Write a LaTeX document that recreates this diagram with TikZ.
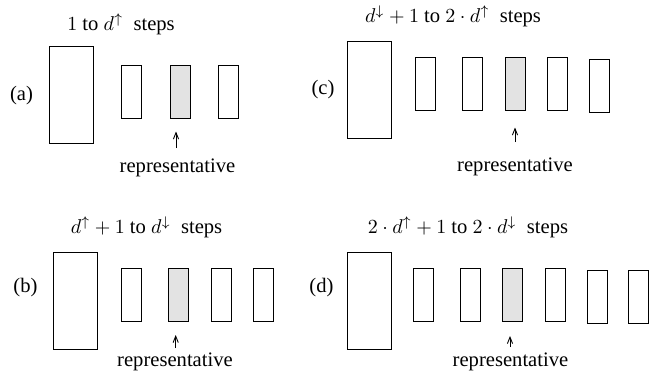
\documentclass[tikz,border=0pt]{standalone}
\usepackage{fontspec}
\setmainfont{Liberation Serif}
\usetikzlibrary{arrows.meta}
\begin{document}
\begin{tikzpicture}[x=0.5pt,y=-0.5pt,
  bigbox/.style={draw,line width=0.5pt,inner sep=0pt,minimum width=22pt,minimum height=48.5pt},
  smallbox/.style={draw,line width=0.5pt,inner sep=0pt,minimum width=10pt,minimum height=26.5pt},
  repbox/.style={smallbox,fill=gray!22},
  lbl/.style={inner sep=0pt,font=\fontsize{10.3}{12}\selectfont},
  reparrow/.style={line width=0.45pt,-{Straight Barb[length=3.2pt,width=2.6pt]}}]
\useasboundingbox (0,0) rectangle (665,380);
% (a)
\node[lbl] (ta) at (121,24) {$1$ to $d^{\uparrow}$\ \ steps};
\node[lbl] (la) at (21.5,96) {(a)};
\node[bigbox] (a0) at (71,94.5) {};
\node[smallbox] (a1) at (131.5,92) {};
\node[repbox] (a2) at (180.2,92) {};
\node[smallbox] (a3) at (228.3,92) {};
\node[lbl] (ra) at (177.5,168) {representative};
\coordinate (as) at (176,148);
\coordinate (ae) at (176,131.5);
\draw[reparrow] (as) -- (ae);
% (b)
\node[lbl] (tb) at (146.5,227) {$d^{\uparrow}+1$ to $d^{\downarrow}$\ \ steps};
\node[lbl] (lb) at (25.5,288) {(b)};
\node[bigbox] (b0) at (75.8,300.5) {};
\node[smallbox] (b1) at (131.5,294.8) {};
\node[repbox] (b2) at (178.5,294.8) {};
\node[smallbox] (b3) at (221.8,294.8) {};
\node[smallbox] (b4) at (263.8,294.8) {};
\node[lbl] (rb) at (175,362) {representative};
\coordinate (bs) at (175.7,348);
\coordinate (be) at (175.7,335);
\draw[reparrow] (bs) -- (be);
% (c)
\node[lbl] (tc) at (453,16) {$d^{\downarrow}+1$ to $2\cdot d^{\uparrow}$\ \ steps};
\node[lbl] (lc) at (323,90) {(c)};
\node[bigbox] (c0) at (369.3,89.5) {};
\node[smallbox] (c1) at (425.2,83.8) {};
\node[smallbox] (c2) at (472,83.8) {};
\node[repbox] (c3) at (515.5,83.8) {};
\node[smallbox] (c4) at (557.2,83.8) {};
\node[smallbox] (c5) at (599.3,85.5) {};
\node[lbl] (rc) at (515,167) {representative};
\coordinate (cs) at (515,142);
\coordinate (ce) at (515,127.5);
\draw[reparrow] (cs) -- (ce);
% (d)
\node[lbl] (td) at (468,227) {$2\cdot d^{\uparrow}+1$ to $2\cdot d^{\downarrow}$\ \ steps};
\node[lbl] (ld) at (321.5,288) {(d)};
\node[bigbox] (d0) at (369.2,300.5) {};
\node[smallbox] (d1) at (423.3,294.8) {};
\node[smallbox] (d2) at (470,294.8) {};
\node[repbox] (d3) at (512,294.8) {};
\node[smallbox] (d4) at (555.8,294.8) {};
\node[smallbox] (d5) at (597.3,296.5) {};
\node[smallbox] (d6) at (638,296.5) {};
\node[lbl] (rd) at (510.5,362) {representative};
\coordinate (ds) at (510,347);
\coordinate (de) at (510,336);
\draw[reparrow] (ds) -- (de);
\end{tikzpicture}
\end{document}
